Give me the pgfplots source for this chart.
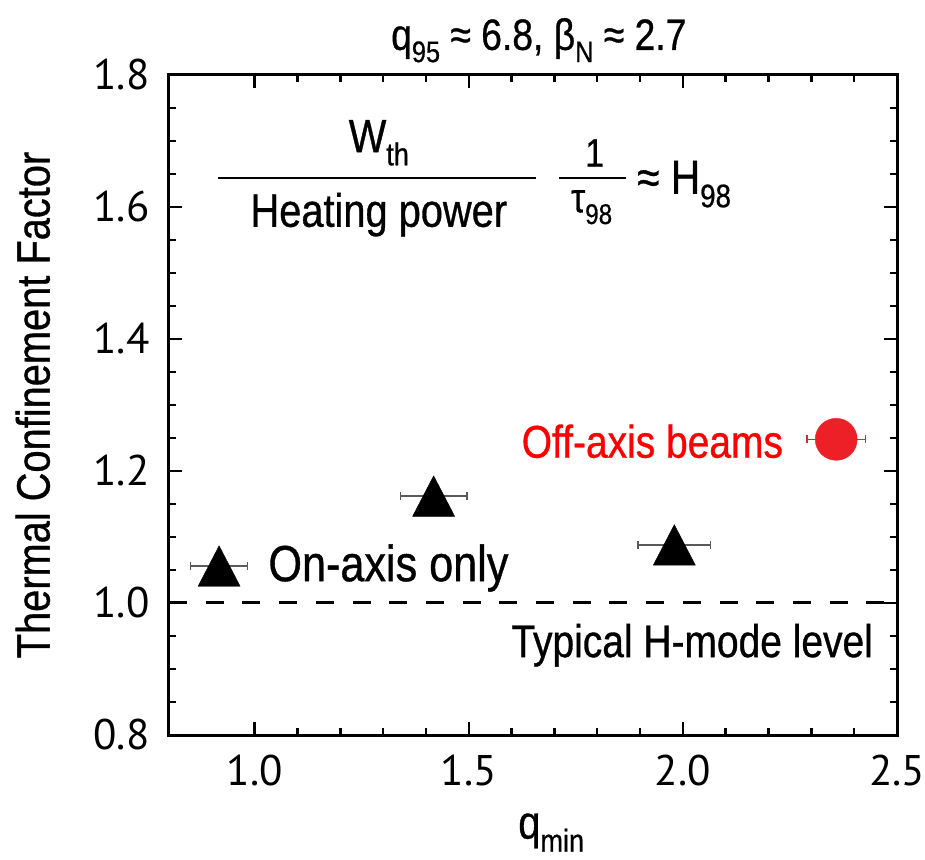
\documentclass[border=0pt]{standalone}
\usepackage{fontspec}
\setmainfont{Liberation Sans}[FakeStretch=0.85, FakeBold=0.7]
\newfontfamily\tickfont{PT Sans}
\usepackage{pgfplots}
\pgfplotsset{compat=1.18}

\definecolor{beamred}{RGB}{237,32,39}
\definecolor{bargray}{RGB}{90,90,90}
\newcommand\fs[1]{\fontsize{#1}{#1}\selectfont}
\newcommand\sub[1]{\raisebox{-0.28em}{\scalebox{0.68}{#1}}}

\pgfplotstableread{
x      y      ex
0.917  1.056  0.067
1.418  1.162  0.078
1.980  1.088  0.085
}\onaxis
\pgfplotstableread{
x      y      ex
2.358  1.248  0.068
}\offaxis

\begin{document}
\begin{tikzpicture}
\begin{axis}[
  name=ax,
  scale only axis,
  width=728bp, height=660bp,
  xmin=0.8, xmax=2.5, ymin=0.8, ymax=1.8,
  xtick={1.0,1.5,2.0,2.5},
  ytick={0.8,1.0,1.2,1.4,1.6,1.8},
  minor x tick num=4, minor y tick num=3,
  major tick length=13bp, minor tick length=7bp,
  tick align=inside,
  every tick/.style={line width=2.5bp, black},
  axis line style={line width=3bp},
  xticklabel style={font=\tickfont\fs{43}, yshift=-16bp},
  yticklabel style={font=\tickfont\fs{43}, xshift=-16bp},
  /pgf/number format/fixed,
  /pgf/number format/fixed zerofill,
  /pgf/number format/precision=1,
  /pgf/number format/assume math mode=true,
  title={q\sub{95} ≈ 6.8, β\sub{N} ≈ 2.7},
  title style={at={(axis description cs:0.508,1.029)}, anchor=base, font=\fs{44}},
  xlabel={q\sub{min}},
  xlabel style={at={(axis description cs:0.525,-0.157)}, anchor=base, font=\fs{47}},
  ylabel={Thermal Confinement Factor},
  ylabel style={at={(axis description cs:-0.187,0.5)}, anchor=center, font=\fs{47}},
  clip=false,
]
% reference H-mode level
\addplot[black, line width=3bp, dash pattern=on 18bp off 18.7bp]
  coordinates {(0.8,1.0) (2.5,1.0)};

% horizontal error bars, drawn beneath the markers
\addplot[only marks, mark=none, bargray,
  error bars/.cd, x dir=both, x explicit, error mark=|,
  error bar style={line width=1.4bp, bargray},
  error mark options={line width=1.4bp, mark size=4bp, bargray}]
  table[x=x, y=y, x error=ex] {\onaxis};
\addplot[only marks, mark=none, beamred,
  error bars/.cd, x dir=both, x explicit, error mark=|,
  error bar style={line width=1.4bp, beamred},
  error mark options={line width=1.4bp, mark size=4bp, beamred}]
  table[x=x, y=y, x error=ex] {\offaxis};

% on-axis and off-axis discharges
\addplot[only marks, mark=triangle*, mark size=27bp,
  mark options={fill=black, draw=black, xscale=0.9, yshift=-6.75bp}]
  table[x=x, y=y] {\onaxis};
\addplot[only marks, mark=*, mark size=21bp,
  mark options={fill=beamred, draw=beamred}]
  table[x=x, y=y] {\offaxis};

% annotations
\node[anchor=west, font=\fs{51}] at (axis cs:1.024,1.053) {On-axis only};
\node[anchor=east, font=\fs{46}, text=red] at (axis cs:2.242,1.245) {Off-axis beams};
\node[anchor=east, font=\fs{46}] at (axis cs:2.452,0.936) {Typical H-mode level};

% confinement factor definition
\node[anchor=base, font=\fs{47}] at (axis cs:1.290,1.683) {W\sub{th}};
\draw[line width=1.8bp] (axis cs:0.914,1.644) -- (axis cs:1.658,1.644);
\node[anchor=base, font=\fs{47}] at (axis cs:1.290,1.570) {Heating power};
\node[anchor=base, font=\fs{40}] at (axis cs:1.794,1.661) {1};
\draw[line width=1.8bp] (axis cs:1.710,1.644) -- (axis cs:1.868,1.644);
\node[anchor=base, font=\fs{42}] at (axis cs:1.787,1.592) {τ\sub{98}};
\node[anchor=base west, font=\fs{48}, inner sep=0pt] at (axis cs:1.893,1.620) {≈ H\sub{98}};
\end{axis}
\pgfresetboundingbox
\path ([shift={(-169bp,-125bp)}]ax.south west) rectangle ([shift={(28bp,75bp)}]ax.north east);
\end{tikzpicture}
\end{document}
